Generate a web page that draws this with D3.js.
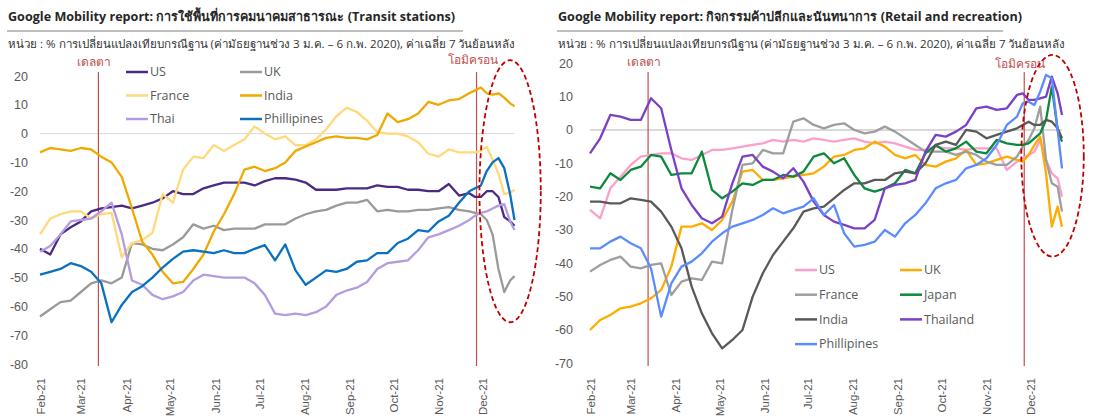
<!DOCTYPE html>
<html>
<head>
<meta charset="utf-8">
<script src="https://cdn.jsdelivr.net/npm/d3@7/dist/d3.min.js"></script>
<style>
  body { margin: 0; background: #fff; }
  svg { font-family: "Open Sans", "Noto Sans", sans-serif; }
</style>
</head>
<body>
<svg id="viz" width="1101" height="416"></svg>
<script>
// Day offsets from 1 Feb 2021 (roughly weekly, denser around Omicron)
var days = [0, 7, 14, 21, 28, 35, 42, 49, 56, 63, 70, 77, 84, 91, 98, 105, 112, 119, 126, 133, 140, 147,
  154, 161, 168, 175, 182, 189, 196, 203, 210, 217, 224, 231, 238, 245, 252, 259, 266, 273, 280, 287, 294,
  298, 302, 306, 310, 314, 318, 322, 325];

var monthFormat = '%b-%y';
var eventDays = [40, 299];
var eventLabels = ['เดลตา', 'โอมิครอน'];

// ---- Transit stations ----
var transitTitle = 'Google Mobility report: การใช้พื้นที่การคมนาคมสาธารณะ (Transit stations)';
var subtitle = 'หน่วย : % การเปลี่ยนแปลงเทียบกรณีฐาน (ค่ามัธยฐานช่วง 3 ม.ค. – 6 ก.พ. 2020), ค่าเฉลี่ย 7 วันย้อนหลัง';
var transitTicks = [-80, -70, -60, -50, -40, -30, -20, -10, 0, 10, 20];
var transitNames = ['US', 'UK', 'France', 'India', 'Thai', 'Phillipines'];
var transitColors = ['#4b2a85', '#9a9a9a', '#ffd97a', '#efa900', '#b39ce0', '#0a70c0'];

var transitUS = [-40, -42, -35, -32.5, -30.5, -27, -26, -25.5,
  -25, -26, -25, -24, -22.5, -20, -21,
  -21, -19, -18, -17, -17, -17, -18,
  -16.5, -15.5, -15.5, -16, -17, -19.5, -19.5,
  -19.5, -19, -19, -19, -18, -18.5, -18.5,
  -19.5, -19.5, -20, -20, -17.5, -21.5, -20.7,
  -22, -22, -20, -20, -22, -29, -30.5, -32];
var transitUK = [-63.5, -61, -58.5, -58, -55, -52, -51, -52,
  -50, -38, -38.5, -40, -40.5, -38.5, -36,
  -31.5, -33, -32, -33.5, -33, -33, -33,
  -31.5, -31.5, -31.5, -29.5, -28, -27, -26.5,
  -25, -24, -24, -23, -27, -26.5, -27,
  -27, -26.5, -26.5, -26, -25.5, -26.5, -27,
  -27.5, -28, -30, -35, -47, -55, -51, -49.5];
var transitFrance = [-35, -29.5, -28, -27, -27, -29.5, -28, -27.5,
  -43, -38, -37, -34.5, -21, -24, -12.5,
  -8, -8.5, -4, -6, -4, -2, 2.5,
  0, -2, -1, -4, -4, -2, 1.5,
  6, 9, 7.5, 4.5, 0.5, 0, 0,
  -1, -3, -7, -8, -5.5, -6.5, -6.5,
  -6.5, -6, -4.6, -9, -14, -21, -20.5, -19.5];
var transitIndia = [-6.5, -5, -5.5, -6, -5, -5.5, -8, -10,
  -15, -26, -37.5, -42, -48, -52, -51.5,
  -47, -42, -34, -28, -21, -12.5, -11.5,
  -13, -12, -10, -6, -4.5, -3, -1.5,
  -1, -1.5, -1.5, -2, -0.5, 7, 4,
  5, 7, 11, 10, 11.5, 12, 14,
  15, 16, 14, 13.5, 14, 12.5, 10.5, 9.5];
var transitThai = [-41, -39, -35, -30.5, -30, -29.5, -27, -24,
  -35, -51, -52.5, -56, -57.5, -56.5, -55,
  -51, -49, -49.5, -50, -50, -50, -52,
  -56, -62.5, -63, -62.5, -63, -62, -60,
  -56, -54.5, -53.5, -51.5, -47, -45, -44.5,
  -44, -40.5, -36, -35, -33.5, -32, -30,
  -28.5, -27.5, -27, -26, -25, -24.5, -30.5, -33.5];
var transitPhillipines = [-49, -48, -47, -45, -46, -48, -52, -65.5,
  -59.5, -55, -53, -50, -46.5, -43.5, -41,
  -40.5, -41, -41.5, -40.5, -41.5, -41.5, -40,
  -38.7, -44, -38.5, -47.5, -52.5, -50, -47.5,
  -48, -47, -44.5, -44, -41.5, -41.5, -38,
  -36.5, -33.5, -34, -30.5, -28.5, -24, -20,
  -19, -18, -13, -10, -8.5, -12, -21, -30];
// omicron zone: [left day, right day, top value, bottom value]
var transitZone = [301, 343, 25.5, -65.5];

// ---- Retail and recreation ----
var retailTitle = 'Google Mobility report: กิจกรรมค้าปลีกและนันทนาการ (Retail and recreation)';
var retailTicks = [-70, -60, -50, -40, -30, -20, -10, 0, 10, 20];
var retailNames = ['US', 'UK', 'France', 'Japan', 'India', 'Thailand', 'Phillipines'];
var retailColors = ['#fb9fcb', '#ffab00', '#9e9e9e', '#0b8a3e', '#595959', '#7b40c6', '#5b8cff'];

var retailUS = [-24, -26.5, -17.5, -14, -10.5, -8, -7.5, -7,
  -7, -8.5, -9, -7.5, -6, -6, -5.5,
  -5, -4.5, -4, -3, -3.5, -3, -3.5,
  -2.5, -3, -3.5, -3, -2.5, -3.5, -4,
  -3.5, -4, -5, -6, -6, -5, -5.5,
  -5.5, -6, -5.5, -5.5, -5.5, -12, -9.5,
  -8.5, -7.5, -6.5, -3, -9, -13, -14.5, -20];
var retailUK = [-60, -57, -55.5, -53.5, -53, -52, -50.5, -48,
  -41, -29, -29, -28, -30, -27, -21.5,
  -12.5, -12, -15, -15, -14.5, -14, -13.5,
  -13, -11, -8, -7.5, -6, -5.5, -3.5,
  -5, -7.5, -8.5, -7.5, -10.5, -11, -9.5,
  -8.5, -6, -10.5, -10, -9, -8, -9,
  -9.5, -7.5, -4.5, -2, -13, -29, -23, -29];
var retailFrance = [-42.5, -40.5, -39, -38, -41, -41.5, -40.5, -40,
  -49.5, -45.5, -44.5, -45, -39.5, -40, -24,
  -10.5, -10, -6, -7, -7, 2.5, 3.5,
  1.5, 0.5, 1.5, 2, 0, -1, -0.5,
  1, -0.5, -2.5, -4.5, -6.5, -6.5, -6.5,
  -7.5, -6.5, -7.5, -9.5, -10.5, -10.5, -8,
  -5, -3, 0.5, 7, -9, -16, -17, -24.5];
var retailJapan = [-17, -17.5, -13, -15, -12, -11, -7.5, -8,
  -13.5, -13, -13, -6.5, -18, -20.5, -18.5,
  -16, -16.5, -15, -15, -13.5, -14, -12.5,
  -8, -7, -10, -8.5, -13.5, -17.5, -18.5,
  -17.5, -16, -12, -13, -7, -4.5, -6.5,
  -5.5, -3.5, -6.5, -7, -3, -4, -4.5,
  -4.5, -4, -2.5, -1, 3, 13, 0, -3.5];
var retailIndia = [-21.5, -21.5, -22, -22, -20.5, -21, -21.5, -24.5,
  -29, -35.5, -47, -55, -61, -65.5, -63,
  -60, -50, -43, -37.5, -33.5, -29.5, -24.5,
  -23.5, -23, -20.5, -18, -16, -16, -15,
  -15, -13, -12.5, -13, -10, -4.5, -3.5,
  -4.5, 0, -0.5, -2.5, -1.5, -0.5, 0.5,
  1.5, 2.5, 1.5, 1.5, 3, 2.5, 0.5, -2.5];
var retailThailand = [-7, -2.5, 4.5, 4, 3, 3, 9.5, 6.5,
  -6, -17.5, -22.5, -26.5, -28, -26, -16,
  -8, -7.5, -11, -12.5, -14.5, -11.5, -15.5,
  -21.5, -25.5, -27.5, -28.5, -29.5, -29.5, -27,
  -17.5, -16.5, -16, -15, -6.5, -1.5, -2,
  -0.5, 1.5, 6.5, 7, 6, 6.5, 10.5,
  11, 9, 9, 9.5, 10, 16, 11, 4.5];
var retailPhillipines = [-35.5, -35.5, -33.5, -32, -34, -35.5, -41.5, -56,
  -46, -41, -39.5, -37, -33.5, -31, -29,
  -28, -27, -25.5, -23.5, -25, -24, -23,
  -20.5, -25.5, -22.5, -31, -35, -34.5, -33.5,
  -30, -32, -28, -25.5, -22, -17.5, -16,
  -15, -11.5, -10.5, -8.5, -4.5, 1.5, 4,
  8, 8.5, 7.5, 11.5, 16.5, 15.5, 0, -11.5];
var retailZone = [297, 340, 22.5, -38];

var svg = d3.select('#viz');

function dayToDate(d) {
  return new Date(2021, 1, 1 + d);
}

/*
 * Draws one panel: title, subtitle, y labels, month labels,
 * event lines, the dashed omicron ellipse, the series and the legend.
 */
function drawPanel(cfg) {
  var g = svg.append('g');

  var x = d3.scaleTime()
    .domain([dayToDate(days[0]), dayToDate(days[days.length - 1])])
    .range([cfg.left, cfg.right]);

  var y = d3.scaleLinear()
    .domain([cfg.ticks[0], cfg.ticks[cfg.ticks.length - 1]])
    .range([cfg.bottom, cfg.top]);

  // title + rule + subtitle
  g.append('text')
    .attr('x', cfg.titleX)
    .attr('y', 21)
    .attr('font-size', 12.6)
    .attr('font-weight', 'bold')
    .attr('fill', '#262626')
    .text(cfg.title);

  g.append('line')
    .attr('x1', cfg.titleX - 1).attr('x2', cfg.titleX + cfg.ruleWidth)
    .attr('y1', 31).attr('y2', 31)
    .attr('stroke', '#7f7f7f')
    .attr('stroke-width', 1.2);

  g.append('text')
    .attr('x', cfg.titleX)
    .attr('y', 48)
    .attr('font-size', 11.55)
    .attr('fill', '#333')
    .text(subtitle);

  // y labels (no axis line)
  var yAxis = d3.axisLeft(y)
    .tickValues(cfg.ticks)
    .tickSize(0)
    .tickPadding(0)
    .tickFormat(function (d) { return String(d); });

  var yG = g.append('g')
    .attr('transform', 'translate(' + cfg.yLabelX + ',0)')
    .call(yAxis);
  yG.select('.domain').remove();
  yG.selectAll('text')
    .attr('font-size', 12.5)
    .attr('font-family', null)
    .attr('fill', '#595959');

  // month labels, rotated
  var xAxis = d3.axisBottom(x)
    .ticks(d3.timeMonth.every(1))
    .tickSize(0)
    .tickFormat(d3.timeFormat(monthFormat));

  var xG = g.append('g')
    .attr('transform', 'translate(0,' + cfg.monthY + ')')
    .call(xAxis);
  xG.select('.domain').remove();
  xG.selectAll('text')
    .attr('font-size', 11.5)
    .attr('font-family', null)
    .attr('fill', '#595959')
    .attr('x', 0)
    .attr('y', 0)
    .attr('dy', '0.35em')
    .attr('transform', 'rotate(-90)')
    .style('text-anchor', 'end');

  // zero line
  g.append('line')
    .attr('x1', cfg.left).attr('x2', cfg.right)
    .attr('y1', y(0)).attr('y2', y(0))
    .attr('stroke', '#d9d9d9')
    .attr('stroke-width', cfg.zeroWidth);

  // delta / omicron markers
  eventDays.forEach(function (d, i) {
    var ex = x(dayToDate(d));
    g.append('line')
      .attr('x1', ex).attr('x2', ex)
      .attr('y1', y(cfg.eventTop)).attr('y2', y(cfg.eventBottom))
      .attr('stroke', '#c0504d')
      .attr('stroke-width', 1.2);
    g.append('text')
      .attr('x', ex - 4)
      .attr('y', cfg.eventLabelY[i])
      .attr('text-anchor', 'middle')
      .attr('font-size', 12)
      .attr('fill', '#c0504d')
      .text(eventLabels[i]);
  });

  // series
  var line = d3.line()
    .x(function (d) { return x(d.date); })
    .y(function (d) { return y(d.value); });

  cfg.series.forEach(function (values, i) {
    var pts = values.map(function (v, j) {
      return { date: dayToDate(days[j]), value: v };
    });
    g.append('path')
      .datum(pts)
      .attr('fill', 'none')
      .attr('stroke', cfg.colors[i])
      .attr('stroke-width', 2.3)
      .attr('stroke-linejoin', 'round')
      .attr('d', line);
  });

  // dashed ellipse round the omicron period
  var zx0 = x(dayToDate(cfg.zone[0])), zx1 = x(dayToDate(cfg.zone[1]));
  var zy0 = y(cfg.zone[2]), zy1 = y(cfg.zone[3]);
  g.append('ellipse')
    .attr('cx', (zx0 + zx1) / 2)
    .attr('cy', (zy0 + zy1) / 2)
    .attr('rx', (zx1 - zx0) / 2)
    .attr('ry', (zy1 - zy0) / 2)
    .attr('fill', 'none')
    .attr('stroke', '#c00000')
    .attr('stroke-width', 1.8)
    .attr('stroke-dasharray', '5,3');

  // legend, two columns
  var legend = g.selectAll('.legend-item')
    .data(cfg.names)
    .enter().append('g')
    .attr('class', 'legend-item')
    .attr('transform', function (d, i) {
      return 'translate(' + (cfg.legendX + (i % 2) * cfg.legendCol) + ',' +
        (cfg.legendY + Math.floor(i / 2) * cfg.legendRow) + ')';
    });

  legend.append('line')
    .attr('x1', 0).attr('x2', 22)
    .attr('stroke', function (d, i) { return cfg.colors[i]; })
    .attr('stroke-width', 2.5);

  legend.append('text')
    .attr('x', 24)
    .attr('dy', '0.35em')
    .attr('font-size', 12.5)
    .attr('fill', '#595959')
    .text(function (d) { return d; });
}

drawPanel({
  title: transitTitle,
  titleX: 8,
  ruleWidth: 455,
  left: 40, right: 514.5, top: 76, bottom: 364,
  ticks: transitTicks,
  yLabelX: 28,
  monthY: 378,
  zeroWidth: 1,
  eventTop: 21.4, eventBottom: -80.7,
  eventLabelY: [66, 64],
  zone: transitZone,
  series: [transitUS, transitUK, transitFrance, transitIndia, transitThai, transitPhillipines],
  names: transitNames,
  colors: transitColors,
  legendX: 126, legendY: 72, legendCol: 114, legendRow: 23.5
});

drawPanel({
  title: retailTitle,
  titleX: 558,
  ruleWidth: 445,
  left: 590, right: 1062, top: 63.3, bottom: 363.3,
  ticks: retailTicks,
  yLabelX: 573,
  monthY: 378,
  zeroWidth: 2,
  eventTop: 17.4, eventBottom: -70.8,
  eventLabelY: [66, 68],
  zone: retailZone,
  series: [retailUS, retailUK, retailFrance, retailJapan, retailIndia, retailThailand, retailPhillipines],
  names: retailNames,
  colors: retailColors,
  legendX: 795, legendY: 270, legendCol: 105, legendRow: 24.7
});
</script>
</body>
</html>
